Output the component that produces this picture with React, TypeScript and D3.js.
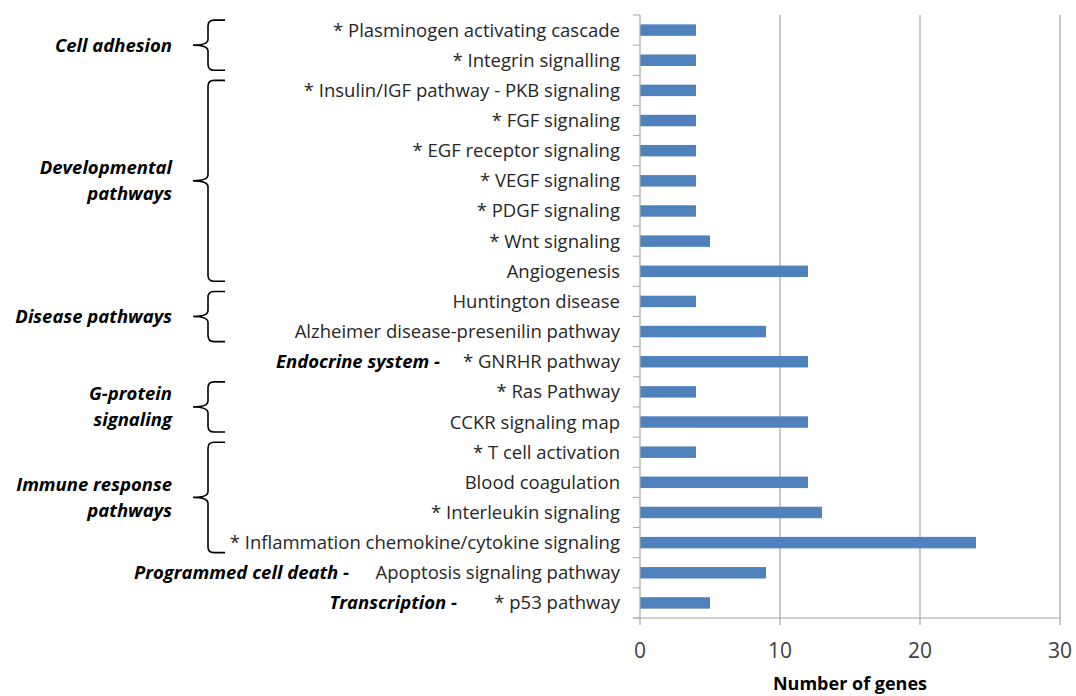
import React from "react";
import * as d3 from "d3";

// pathway names, top to bottom
const categories = [
  "* Plasminogen activating cascade",
  "* Integrin signalling",
  "* Insulin/IGF pathway - PKB signaling",
  "* FGF signaling",
  "* EGF receptor signaling",
  "* VEGF signaling",
  "* PDGF signaling",
  "* Wnt signaling",
  "Angiogenesis",
  "Huntington disease",
  "Alzheimer disease-presenilin pathway",
  "* GNRHR pathway",
  "* Ras Pathway",
  "CCKR signaling map",
  "* T cell activation",
  "Blood coagulation",
  "* Interleukin signaling",
  "* Inflammation chemokine/cytokine signaling",
  "Apoptosis signaling pathway",
  "* p53 pathway",
];
const geneCounts = [4, 4, 4, 4, 4, 4, 4, 5, 12, 4, 9, 12, 4, 12, 4, 12, 13, 24, 9, 5];
const xTicks = [0, 10, 20, 30];

// groups drawn with a brace: label lines, first and last category index
const braceGroups = [
  { lines: ["Cell adhesion"], from: 0, to: 1 },
  { lines: ["Developmental", "pathways"], from: 2, to: 8 },
  { lines: ["Disease pathways"], from: 9, to: 10 },
  { lines: ["G-protein", "signaling"], from: 12, to: 13 },
  { lines: ["Immune response", "pathways"], from: 14, to: 17 },
];
// single-row groups written inline with a dash
const inlineGroups = [
  { label: "Endocrine system -", row: 11, gap: 180 },
  { label: "Programmed cell death -", row: 18, gap: 271 },
  { label: "Transcription -", row: 19, gap: 163 },
];

const W = 1076;
const H = 696;
const left = 640;
const right = 1060;
const top = 15;
const bottom = 618;
const labelRight = 620;
const font = "'Open Sans', 'Liberation Sans', sans-serif";
const labelSize = 18.5;

const x = d3.scaleLinear().domain([0, 30]).range([left, right]);
const y = d3
  .scaleBand<string>()
  .domain(categories)
  .range([top, bottom])
  .paddingInner(0.62)
  .paddingOuter(0.31);

const step = y.step();

function bracePath(bx: number, y0: number, y1: number) {
  const ym = (y0 + y1) / 2;
  const r = 6;
  const arm = 17;
  const tip = 15;
  return [
    `M${bx + arm},${y0}`,
    `L${bx + r},${y0}`,
    `Q${bx},${y0} ${bx},${y0 + r}`,
    `L${bx},${ym - r}`,
    `Q${bx},${ym} ${bx - tip},${ym}`,
    `Q${bx},${ym} ${bx},${ym + r}`,
    `L${bx},${y1 - r}`,
    `Q${bx},${y1} ${bx + r},${y1}`,
    `L${bx + arm},${y1}`,
  ].join(" ");
}

export default function App() {
  const boundaries = d3.range(categories.length + 1).map((i) => top + i * step);
  return (
    <svg
      width={W}
      height={H}
      style={{ position: "absolute", left: 0, top: 0, background: "#fff" }}
      fontFamily={font}
    >
      {/* vertical gridlines */}
      {xTicks.slice(1).map((t) => (
        <line key={t} x1={x(t)} x2={x(t)} y1={top} y2={bottom} stroke="#a6a6a6" strokeWidth={1.2} />
      ))}

      {/* bars */}
      {categories.map((c, i) => (
        <rect
          key={c}
          x={x(0)}
          y={y(c)}
          width={x(geneCounts[i]) - x(0)}
          height={y.bandwidth()}
          fill="#4f81bd"
        />
      ))}

      {/* y axis with ticks between rows */}
      <line x1={left} x2={left} y1={top} y2={bottom} stroke="#a6a6a6" strokeWidth={1.2} />
      {boundaries.map((b, i) => (
        <line key={i} x1={left - 7} x2={left} y1={b} y2={b} stroke="#a6a6a6" strokeWidth={1} />
      ))}

      {/* x axis */}
      <line x1={left - 7} x2={right} y1={bottom} y2={bottom} stroke="#a6a6a6" strokeWidth={1.2} />
      {xTicks.map((t) => (
        <g key={t}>
          <line x1={x(t)} x2={x(t)} y1={bottom} y2={bottom + 7} stroke="#a6a6a6" strokeWidth={1.2} />
          <text x={x(t)} y={658} textAnchor="middle" fontSize={21} fill="#404040">
            {t}
          </text>
        </g>
      ))}
      <text x={850} y={690} textAnchor="middle" fontSize={18} fontWeight="bold" fill="#000">
        Number of genes
      </text>

      {/* category labels */}
      {categories.map((c) => (
        <text
          key={c}
          x={labelRight}
          y={(y(c) as number) + y.bandwidth() / 2}
          dy="0.35em"
          textAnchor="end"
          fontSize={labelSize}
          fill="#262626"
        >
          {c}
        </text>
      ))}

      {/* braced groups */}
      {braceGroups.map((g) => {
        const y0 = (y(categories[g.from]) as number) + y.bandwidth() / 2 - 10;
        const y1 = (y(categories[g.to]) as number) + y.bandwidth() / 2 + 10;
        const ym = (y0 + y1) / 2;
        const lh = 26;
        return (
          <g key={g.lines[0]}>
            <path d={bracePath(208, y0, y1)} fill="none" stroke="#000" strokeWidth={1.6} />
            {g.lines.map((ln, k) => (
              <text
                key={ln}
                x={172}
                y={ym + (k - (g.lines.length - 1) / 2) * lh}
                dy="0.35em"
                textAnchor="end"
                fontSize={labelSize}
                fontWeight="bold"
                fontStyle="italic"
                fill="#000"
              >
                {ln}
              </text>
            ))}
          </g>
        );
      })}

      {/* inline groups */}
      {inlineGroups.map((g) => (
        <text
          key={g.label}
          x={labelRight - g.gap}
          y={(y(categories[g.row]) as number) + y.bandwidth() / 2}
          dy="0.35em"
          textAnchor="end"
          fontSize={labelSize}
          fontWeight="bold"
          fontStyle="italic"
          fill="#000"
        >
          {g.label}
        </text>
      ))}
    </svg>
  );
}
